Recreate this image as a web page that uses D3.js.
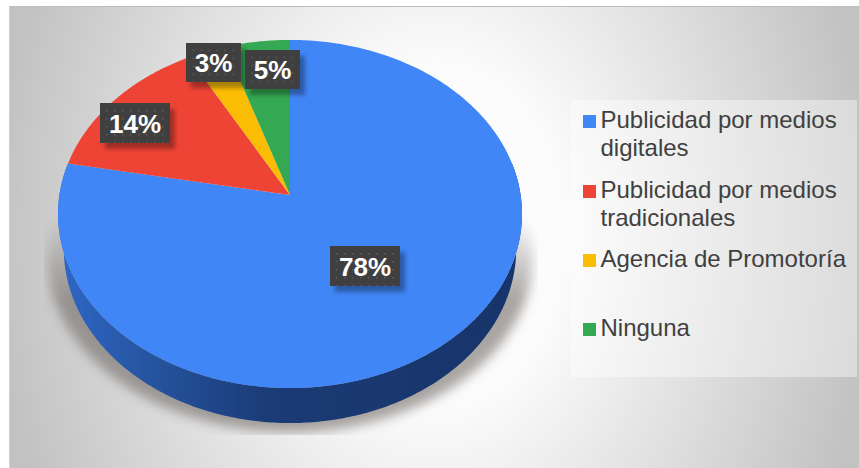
<!DOCTYPE html>
<html lang="es">
<head>
<meta charset="utf-8">
<script src="https://cdn.jsdelivr.net/npm/d3@7"></script>
<style>
html,body{margin:0;padding:0;background:#fff}
svg{display:block}
text{font-family:"Liberation Sans",Arial,sans-serif}
</style>
</head>
<body>
<svg id="chart" width="859" height="468"></svg>
<script>
// Respuestas de la encuesta
const categories = ["Publicidad por medios digitales","Publicidad por medios tradicionales","Agencia de Promotoría","Ninguna"];
const values = [78, 14, 3, 5];
const legendLines = [["Publicidad por medios","digitales"],["Publicidad por medios","tradicionales"],["Agencia de Promotoría"],["Ninguna"]];
const colors = ["#4086f6","#ee4435","#fbbc04","#34a853"];

const W = 859, H = 468;
const svg = d3.select("#chart");
const defs = svg.append("defs");

// Fondo con degradado radial
const bg = defs.append("radialGradient").attr("id","bg").attr("gradientUnits","userSpaceOnUse")
  .attr("cx",0).attr("cy",0).attr("r",1)
  .attr("gradientTransform","translate(434,236) scale(440,580)");
[[0,"#ffffff"],[0.3,"#fbfbfb"],[1,"#c2c2c2"]].forEach(([o,c])=>bg.append("stop").attr("offset",o).attr("stop-color",c));

// Pared lateral del pastel
const wall = defs.append("linearGradient").attr("id","wall").attr("gradientUnits","userSpaceOnUse")
  .attr("x1",60).attr("x2",520).attr("y1",0).attr("y2",0);
[[0,"#2f66c6"],[0.2,"#25549f"],[0.45,"#1b3b76"],[1,"#17346a"]].forEach(([o,c])=>wall.append("stop").attr("offset",o).attr("stop-color",c));

const soft = defs.append("filter").attr("id","soft").attr("x","-20%").attr("y","-20%").attr("width","140%").attr("height","140%");
soft.append("feGaussianBlur").attr("stdDeviation",6);
const softLabel = defs.append("filter").attr("id","softLabel").attr("x","-30%").attr("y","-30%").attr("width","160%").attr("height","160%");
softLabel.append("feGaussianBlur").attr("stdDeviation",2.2);

const dots = defs.append("pattern").attr("id","dots").attr("patternUnits","userSpaceOnUse").attr("width",8).attr("height",8);
dots.append("rect").attr("width",8).attr("height",8).attr("fill","#3f3f3f");
dots.append("rect").attr("x",3).attr("y",3).attr("width",1.4).attr("height",1.4).attr("fill","#5f5f5f");

// La sombra se desvanece hacia arriba y termina recortada abajo
const shadowFade = defs.append("linearGradient").attr("id","shadowFade").attr("gradientUnits","userSpaceOnUse")
  .attr("x1",0).attr("x2",0).attr("y1",215).attr("y2",300);
[[0,"#000"],[1,"#fff"]].forEach(([o,c])=>shadowFade.append("stop").attr("offset",o).attr("stop-color",c));
defs.append("mask").attr("id","shadowMask").attr("maskUnits","userSpaceOnUse")
  .attr("x",0).attr("y",0).attr("width",W).attr("height",H)
  .append("rect").attr("x",44).attr("y",200).attr("width",494).attr("height",235).attr("fill","url(#shadowFade)");

// Fondo y filetes del marco
svg.append("rect").attr("x",9).attr("y",6).attr("width",W-9).attr("height",H-6).attr("fill","url(#bg)");
svg.append("line").attr("x1",9).attr("x2",W).attr("y1",6.5).attr("y2",6.5).attr("stroke","#bdbdbd");
svg.append("line").attr("x1",9.5).attr("x2",9.5).attr("y1",6).attr("y2",H).attr("stroke","#cfcfcf");

// Proyección en perspectiva del disco unidad sobre el plano del gráfico
const apex = {x:290, y:195};
const k = 0.109, A = 172, B = 230.6;
function project(theta, r=1, dx=0, dy=0, sx=1){
  const ux = r*Math.sin(theta), uy = -r*Math.cos(theta), w = 1 - k*uy;
  return [apex.x + sx*B*ux/w + dx, apex.y + A*uy/w + dy];
}
const line = d3.line();
const pie = d3.pie().sort(null).value(d=>d);
const arcs = pie(values);

function rimPoints(a0, a1, dy=0, sx=1){
  const n = Math.max(2, Math.ceil((a1-a0)*80));
  return d3.range(n+1).map(i=>project(a0+(a1-a0)*i/n, 1, 0, dy, sx));
}

// Sombra proyectada bajo el pastel
svg.append("g").attr("mask","url(#shadowMask)")
  .append("path")
  .attr("d", line(rimPoints(0,2*Math.PI,44,1.045))+"Z")
  .attr("fill","#6f6a66").attr("opacity",0.6).attr("filter","url(#soft)");

// Pared frontal: de la derecha a la izquierda del borde
const depth = 35, wallScale = 0.975;
const upper = rimPoints(Math.PI*0.44, Math.PI*1.56);
const lower = rimPoints(Math.PI*0.44, Math.PI*1.56, depth, wallScale);
svg.append("path").attr("d", line(upper.concat(lower.reverse()))+"Z").attr("fill","url(#wall)");

// Cara superior, una porción por categoría
svg.append("g").selectAll("path").data(arcs).join("path")
  .attr("d", d => line([[apex.x,apex.y]].concat(rimPoints(d.startAngle,d.endAngle)))+"Z")
  .attr("fill",(d,i)=>colors[i]);

// Etiquetas de porcentaje
const labelBoxes = [
  {cx:365, cy:266, w:70, h:40},
  {cx:135, cy:123, w:70, h:40},
  {cx:213.5, cy:62.5, w:55, h:39},
  {cx:272.5, cy:69.5, w:55, h:39}
];
const labels = svg.append("g").selectAll("g").data(values).join("g")
  .attr("transform",(d,i)=>`translate(${labelBoxes[i].cx},${labelBoxes[i].cy})`);
labels.append("rect")
  .attr("x",(d,i)=>-labelBoxes[i].w/2+5).attr("y",(d,i)=>-labelBoxes[i].h/2+6)
  .attr("width",(d,i)=>labelBoxes[i].w).attr("height",(d,i)=>labelBoxes[i].h)
  .attr("fill","#000").attr("opacity",0.32).attr("filter","url(#softLabel)");
labels.append("rect")
  .attr("x",(d,i)=>-labelBoxes[i].w/2).attr("y",(d,i)=>-labelBoxes[i].h/2)
  .attr("width",(d,i)=>labelBoxes[i].w).attr("height",(d,i)=>labelBoxes[i].h)
  .attr("fill","url(#dots)");
labels.append("text").attr("text-anchor","middle").attr("y",9.5)
  .attr("fill","#fff").attr("font-size",26).attr("font-weight","bold")
  .text(d=>d+"%");

// Leyenda
svg.append("rect").attr("x",571).attr("y",100).attr("width",286).attr("height",277).attr("fill","#fff").attr("opacity",0.4);
const legendRows = [128,198,267,336];
const legend = svg.append("g").selectAll("g").data(categories).join("g")
  .attr("transform",(d,i)=>`translate(0,${legendRows[i]})`);
legend.append("rect").attr("x",583).attr("y",-13).attr("width",13).attr("height",13).attr("fill",(d,i)=>colors[i]);
legend.append("text").attr("fill","#404040").attr("font-size",24)
  .selectAll("tspan").data((d,i)=>legendLines[i]).join("tspan")
  .attr("x",600.5).attr("y",(d,j)=>j*27.5).text(d=>d);
</script>
</body>
</html>
